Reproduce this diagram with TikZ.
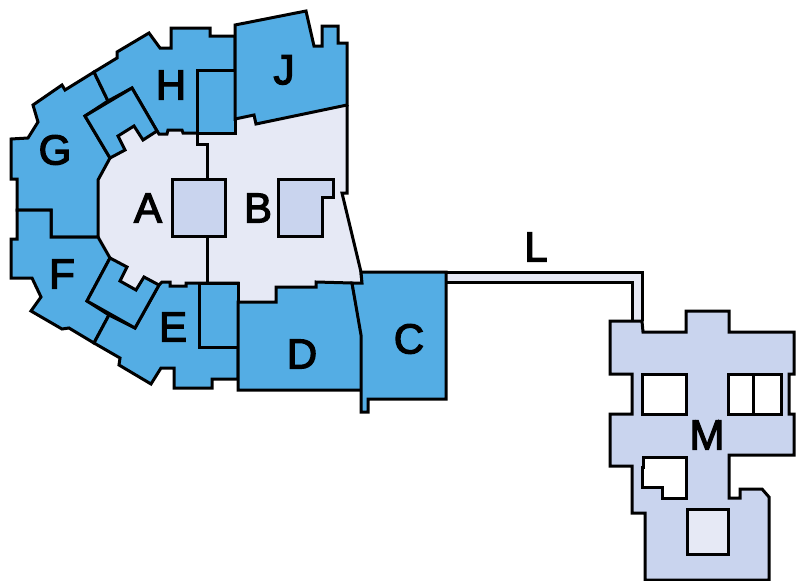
\documentclass[tikz,border=0pt]{standalone}
\usepackage{fontspec}
\setmainfont{Liberation Sans}
\newfontfamily\labelface[FakeBold=3]{Liberation Sans}
\definecolor{zoneblue}{HTML}{54ADE4}
\definecolor{zonelight}{HTML}{E6E9F5}
\definecolor{zonemid}{HTML}{C9D4EE}
\tikzset{
  wall/.style={draw=black,line width=3pt,line join=miter,miter limit=4},
  blue zone/.style={wall,fill=zoneblue},
  light zone/.style={wall,fill=zonelight},
  mid zone/.style={wall,fill=zonemid},
  void/.style={wall,fill=white},
  tag/.style={font=\fontsize{42}{42}\selectfont\labelface,inner sep=0pt,text=black}
}
\begin{document}
\begin{tikzpicture}[x=1pt,y=-1pt]
\useasboundingbox (0,0) rectangle (801,581);
% concourse
\path[fill=zonelight] (98,180)--(110,158)--(125,150)--(118,136)--(134,126)--(143,140)--(157,131)--(235,119)--(347,105)--(347,193)--(342,193)--(361,272)--(362,284)--(276,287)--(276,302)--(238,302)--(238,283)--(159,285)--(144,277)--(136,290)--(120,281)--(127,267)--(110,258)--(98,237)--cycle;
\draw[wall] (347,105)--(347,193)--(342,193)--(361,272)--(362,284);
\draw[wall] (197,133)--(197,144)--(207,144)--(207,283);
\path[mid zone] (172,179) rectangle (225,236);
\path[mid zone] (278,179)--(333,179)--(333,197)--(322,197)--(322,236)--(278,236)--cycle;
% corridor
\path[fill=zonelight] (446,272)--(642,272)--(642,321)--(632,321)--(632,282)--(446,282)--cycle;
\draw[wall] (446,272)--(642,272)--(642,321);
\draw[wall] (446,282)--(632,282)--(632,321);
% G
\path[blue zone] (94,72)--(65,90)--(62,85)--(33,105)--(38,122)--(28,138)--(11,139)--(11,179)--(17,179)--(17,210)--(51,210)--(51,237)--(98,237)--(98,180)--(110,158)--(85,116)--(108,101)--cycle;
% H
\path[blue zone] (94,72)--(117,58)--(117,52)--(149,33)--(160,48)--(171,48)--(171,28)--(210,28)--(210,36)--(235,36)--(235,133)--(183,133)--(182,130)--(168,130)--(167,134)--(159,134)--(157,131)--(132,88)--(108,101)--cycle;
\path[blue zone] (197,70) rectangle (235,133);
\path[blue zone] (85,116)--(132,88)--(157,131)--(143,140)--(134,126)--(118,136)--(125,150)--(110,158)--cycle;
% F
\path[blue zone] (17,210)--(51,210)--(51,237)--(98,237)--(110,258)--(87,301)--(109,315)--(94,343)--(69,328)--(62,329)--(31,311)--(41,297)--(32,278)--(11,278)--(11,239)--(17,239)--cycle;
% E
\path[blue zone] (94,343)--(120,358)--(119,365)--(151,384)--(161,368)--(174,368)--(174,388)--(212,388)--(212,379)--(238,379)--(238,283)--(186,283)--(186,286)--(170,286)--(170,282)--(162,282)--(159,285)--(135,328)--(109,315)--cycle;
\path[blue zone] (199,283) rectangle (238,347);
\path[blue zone] (110,258)--(127,267)--(120,281)--(136,290)--(144,277)--(159,285)--(135,328)--(87,301)--cycle;
% J
\path[blue zone] (235,25)--(306,11)--(314,46)--(322,46)--(322,26)--(338,26)--(338,43)--(347,43)--(347,105)--(256,124)--(254,115)--(235,119)--cycle;
% D
\path[blue zone] (238,302)--(276,302)--(276,287)--(316,287)--(316,282)--(352,283)--(362,335)--(362,390)--(238,390)--cycle;
% C
\path[blue zone] (361,272)--(446,272)--(446,399)--(368,399)--(368,412)--(361,412)--(361,335)--(352,283)--(362,283)--cycle;
% M
\path[mid zone] (610,321)--(642,321)--(643,332)--(686,332)--(686,311)--(729,311)--(729,332)--(794,332)--(794,374)--(789,374)--(789,414)--(794,414)--(794,455)--(729,455)--(729,498)--(740,498)--(740,489)--(762,489)--(769,497)--(769,580)--(645,580)--(645,513)--(632,513)--(632,466)--(610,466)--(610,414)--(632,414)--(632,374)--(610,374)--cycle;
\path[void] (642,374) rectangle (686,414);
\path[void] (728,374) rectangle (781,414);
\draw[wall] (753,374)--(753,414);
\path[void] (643,457)--(686,457)--(686,498)--(662,498)--(662,487)--(642,487)--(642,467)--(643,467)--cycle;
\path[light zone] (687,509) rectangle (728,554);
% labels
\node[tag] (a) at (148,208) {A};
\node[tag] (b) at (258,208) {B};
\node[tag] (c) at (409,339) {C};
\node[tag] (d) at (302,354) {D};
\node[tag] (e) at (173,327) {E};
\node[tag] (f) at (62,274) {F};
\node[tag] (g) at (55,150) {G};
\node[tag] (h) at (171,85) {H};
\node[tag] (j) at (284,70) {J};
\node[tag] (l) at (536,247) {L};
\node[tag] (m) at (707,435) {M};
\end{tikzpicture}
\end{document}
